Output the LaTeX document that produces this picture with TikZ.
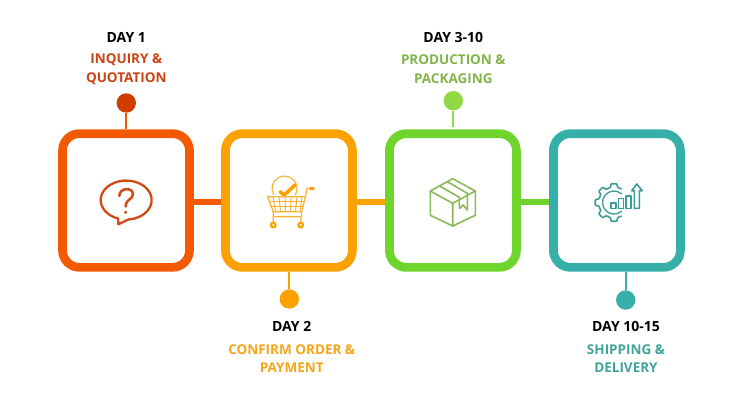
\documentclass[tikz,border=0pt]{standalone}
\usepackage{fontspec}
\setmainfont{Open Sans}
\definecolor{boxa}{HTML}{F15A00}\definecolor{boxb}{HTML}{FBA100}\definecolor{boxc}{HTML}{6FD42C}\definecolor{boxd}{HTML}{36AFA8}
\definecolor{dota}{HTML}{D03D00}\definecolor{dotc}{HTML}{8FD944}
\definecolor{txta}{HTML}{CC4414}\definecolor{txtb}{HTML}{F5A518}\definecolor{txtc}{HTML}{82B54B}\definecolor{txtd}{HTML}{3FA59C}
\definecolor{icona}{HTML}{D04A12}\definecolor{iconb}{HTML}{F9B233}\definecolor{iconc}{HTML}{8BB958}\definecolor{icond}{HTML}{3A9D98}
\tikzset{
 stepbox/.style={draw=#1,line width=8.7pt,rounded corners=17pt,minimum width=127pt,minimum height=133.7pt,inner sep=0pt},
 daydot/.style={circle,fill=#1,minimum size=19.4pt,inner sep=0pt},
 link/.style={draw=#1,line width=5.7pt},
 stem/.style={draw=#1,line width=1.8pt},
 daylabel/.style={font=\bfseries\fontsize{14}{17}\selectfont,text=black,inner sep=0pt},
 desc/.style={font=\bfseries\fontsize{13.5}{18.6}\selectfont,text=#1,align=center,inner sep=0pt},
 ico/.style={draw=#1,line width=1.6pt,line join=round,line cap=round,fill=none}
}
\begin{document}
\begin{tikzpicture}[x=1pt,y=-1pt]
\useasboundingbox (0,0) rectangle (750,412);
\fill[white] (0,0) rectangle (750,412);
% boxes
\node[stepbox=boxa] (b1) at (126,200.5) {};
\node[stepbox=boxb] (b2) at (288.9,200.5) {};
\node[stepbox=boxc] (b3) at (452.9,200.5) {};
\node[stepbox=boxd] (b4) at (616.9,200.5) {};
% links
\coordinate (la) at (b1.east |- 0,202);
\coordinate (lb) at (b2.west |- 0,202);
\coordinate (lc) at (b2.east |- 0,202);
\coordinate (ld) at (b3.west |- 0,202);
\coordinate (le) at (b3.east |- 0,202);
\coordinate (lf) at (b4.west |- 0,202);
\draw[link=boxa] (la) -- (lb);
\draw[link=boxb] (lc) -- (ld);
\draw[link=boxc] (le) -- (lf);
% dots and stems
\node[daydot=dota] (d1) at (126.3,103) {};
\node[daydot=boxb] (d2) at (289.3,299) {};
\node[daydot=dotc] (d3) at (453.3,100.7) {};
\node[daydot=boxd] (d4) at (625.7,300) {};
\draw[stem=boxa] (d1) -- (b1.north -| d1);
\draw[stem=boxb] (d2) -- (b2.south -| d2);
\draw[stem=dotc,shorten >=2pt] (d3) -- (b3.north -| d3);
\draw[stem=boxd] (d4) -- (b4.south -| d4);
% texts
\node[daylabel] (t1) at (126.3,37.3) {DAY 1};
\node[desc=txta] (s1) at (126.3,69.3) {INQUIRY \&\\QUOTATION};
\node[daylabel] (t2) at (291.7,326.3) {DAY 2};
\node[desc=txtb] (s2) at (291.7,358.5) {CONFIRM ORDER \&\\PAYMENT};
\node[daylabel] (t3) at (453.3,37.3) {DAY 3-10};
\node[desc=txtc] (s3) at (453.3,69.3) {PRODUCTION \&\\PACKAGING};
\node[daylabel] (t4) at (626,326.7) {DAY 10-15};
\node[desc=txtd] (s4) at (626,358.8) {SHIPPING \&\\DELIVERY};
% question bubble
\draw[ico=icona,line width=2.3pt] (118.3,218.6) arc[start angle=108,end angle=445,x radius=25.5,y radius=19.5] -- (118.3,224.3) -- cycle;
\draw[ico=icona,line width=2.5pt] (119.3,196) .. controls (119.5,187) and (133,187.5) .. (133,194) .. controls (133,199.5) and (125.7,199) .. (125.7,206.5);
\fill[icona] (125.7,212.3) circle (1.7);
% cart
\draw[ico=iconb,line width=1.1pt] (273.7,194.75) arc[start angle=150,end angle=390,radius=12.5];
\draw[ico=boxb,line width=3.6pt] (280,191.8) -- (284.3,195) -- (295,185);
\draw[ico=iconb,line width=1.2pt] (267.7,196.7) -- (305.5,196.7) -- (301.7,211.7) -- (273.3,211.7) -- cycle;
\foreach \xa/\xb in {273/275.5,279/280.5,285/285.5,291/290.5,297/295.5,302/300}
  \draw[ico=iconb,line width=1pt] (\xa,196.7) -- (\xb,211.7);
\draw[ico=iconb,line width=1pt] (269,201.7) -- (304.3,201.7) (270.5,206.7) -- (303,206.7);
\draw[ico=iconb,line width=1.2pt] (273.3,211.7) -- (273.3,222) (273.3,216.7) -- (301.7,216.7) (301.7,211.7) -- (300.7,222);
\draw[ico=iconb,line width=1.2pt] (305.5,196.7) -- (307,188.5) -- (310,188.5);
\draw[boxb,line width=3pt,line cap=round] (310.5,188.3) -- (313.5,188.8);
\fill[boxb] (273.3,225) circle (3.5) (300.7,225) circle (3.5);
\fill[white] (273.3,225) circle (1.2) (300.7,225) circle (1.2);
% parcel
\draw[ico=iconc] (452.7,178.7) -- (475.3,191) -- (475.3,215.3) -- (452.7,226) -- (430.3,215.3) -- (430.3,191) -- cycle;
\draw[ico=iconc] (430.3,191) -- (452.7,203.3) -- (475.3,191) (452.7,203.3) -- (452.7,226);
\draw[ico=iconc] (439,185.7) -- (459.3,197.3) -- (459.3,208.5) -- (463.3,205) -- (467.3,210) -- (467.3,193.3) -- (447.3,181.7);
% gear and chart
\begin{scope}[shift={(614,202.5)}]
\draw[ico=icond,rounded corners=.8pt] (62:15.5) foreach \a in {90,135,180,225,270} { -- (\a-13:15.5) -- (\a-9:19) -- (\a+9:19) -- (\a+13:15.5) } -- (298:15.5);
\draw[ico=icond,line width=1.3pt] (7.4,-8.8) arc[start angle=-50,end angle=-310,radius=11.5];
\end{scope}
\draw[ico=icond] (611,202.7) rectangle (616,208.3);
\draw[ico=icond] (618.3,198.3) rectangle (623.3,208.3);
\draw[ico=icond] (626,195.7) rectangle (631,208.3);
\draw[ico=icond] (634.3,208.3) -- (634.3,190.7) -- (631.7,190.7) -- (636.7,184) -- (642.3,190.7) -- (639.3,190.7) -- (639.3,208.3) -- cycle;
\end{tikzpicture}
\end{document}
